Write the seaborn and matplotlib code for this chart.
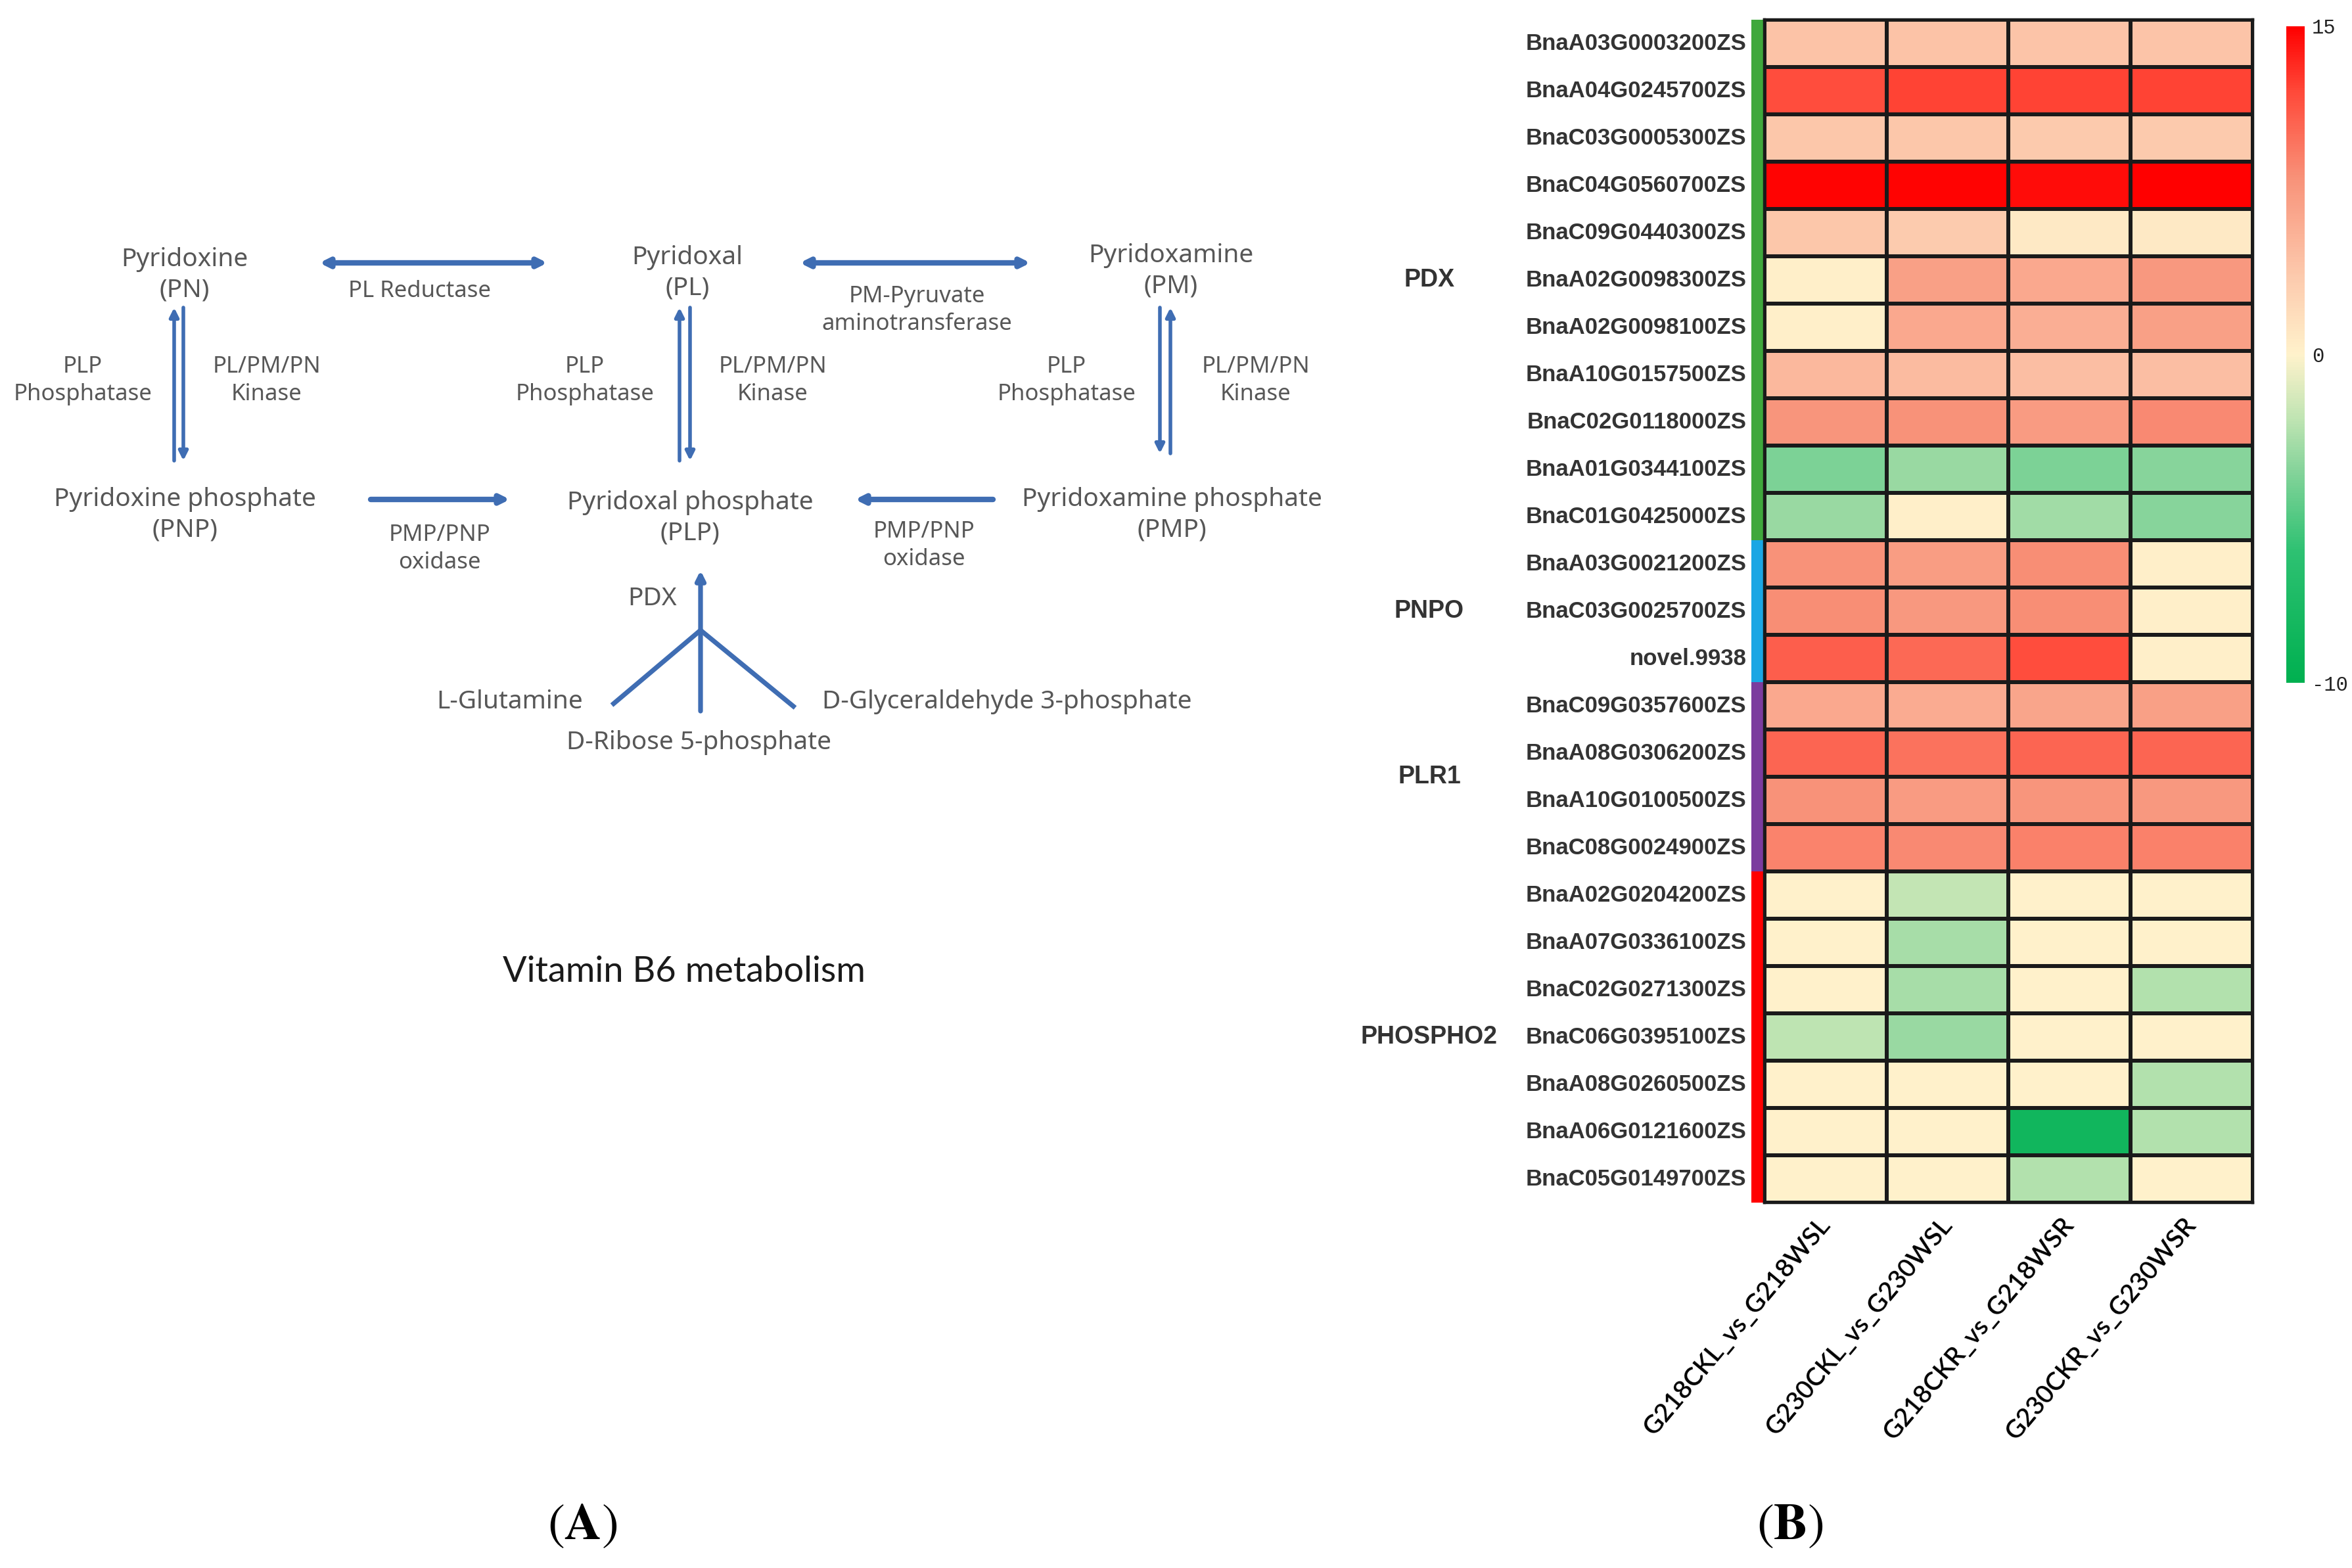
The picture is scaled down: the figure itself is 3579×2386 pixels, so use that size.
"""Vitamin B6 metabolism pathway (A) and expression heatmap of the pathway genes (B)."""
import matplotlib
matplotlib.use('Agg')
import matplotlib.pyplot as plt
import seaborn as sns
import pandas as pd
from matplotlib import colors, transforms
from matplotlib.patches import Rectangle

# %%
# heatmap data (log2 fold change)
genes = ['BnaA03G0003200ZS', 'BnaA04G0245700ZS', 'BnaC03G0005300ZS', 'BnaC04G0560700ZS',
         'BnaC09G0440300ZS', 'BnaA02G0098300ZS', 'BnaA02G0098100ZS', 'BnaA10G0157500ZS',
         'BnaC02G0118000ZS', 'BnaA01G0344100ZS', 'BnaC01G0425000ZS',
         'BnaA03G0021200ZS', 'BnaC03G0025700ZS', 'novel.9938',
         'BnaC09G0357600ZS', 'BnaA08G0306200ZS', 'BnaA10G0100500ZS', 'BnaC08G0024900ZS',
         'BnaA02G0204200ZS', 'BnaA07G0336100ZS', 'BnaC02G0271300ZS', 'BnaC06G0395100ZS',
         'BnaA08G0260500ZS', 'BnaA06G0121600ZS', 'BnaC05G0149700ZS']
comparisons = ['G218CKL_vs_G218WSL', 'G230CKL_vs_G230WSL', 'G218CKR_vs_G218WSR', 'G230CKR_vs_G230WSR']

g218_leaf = [4.2, 11.8, 3.8, 14.8, 3.8, 0.3, 0.3, 5.0, 7.8, -3.8, -3.0,
             8.0, 8.3, 10.8,
             6.3, 10.5, 8.0, 8.8,
             0, 0, 0, -2.0, 0, 0, 0]
g230_leaf = [4.2, 12.3, 3.8, 14.8, 3.5, 7.0, 6.3, 4.8, 8.0, -3.0, 0.3,
             7.2, 7.5, 10.3,
             6.0, 9.8, 7.3, 8.5,
             -1.8, -2.6, -2.6, -3.0, 0, 0, 0]
g218_root = [4.0, 12.3, 3.6, 14.5, 0.8, 6.3, 5.8, 4.5, 7.3, -3.8, -2.8,
             8.3, 8.3, 11.8,
             6.5, 10.5, 7.8, 9.0,
             0, 0, 0, 0, 0, -8.5, -2.3]
g230_root = [4.0, 12.3, 3.6, 15.0, 0.8, 7.5, 7.0, 4.5, 8.5, -3.5, -3.5,
             0.3, 0.3, 0.3,
             7.0, 10.5, 7.5, 9.0,
             0, 0, -2.3, 0, -2.3, -2.3, 0]

families = ['PDX', 'PNPO', 'PLR1', 'PHOSPHO2']
family_sizes = [11, 3, 4, 7]
family_colors = ['#3fa83c', '#1aa6e4', '#7b3c9e', '#ff0000']
cbar_ticks = [-10, 0, 15]

# %%
sns.set_style('white')
plt.rcParams['font.family'] = ['Liberation Sans', 'DejaVu Sans']
plt.rcParams['mathtext.fontset'] = 'stix'

fig = plt.figure(figsize=(17.9, 11.93), dpi=200)

# %%
# panel A: the pathway sketch, drawn in pixel coordinates of the whole figure
pa = fig.add_axes([0, 0, 1, 1])
pa.set_xlim(0, 3580)
pa.set_ylim(2386, 0)
pa.axis('off')

blue = '#3f6db3'
grey = '#575757'

names = [('Pyridoxine\n(PN)', 281, 418), ('Pyridoxal\n(PL)', 1046, 415),
         ('Pyridoxamine\n(PM)', 1782, 412), ('Pyridoxine phosphate\n(PNP)', 281, 783),
         ('Pyridoxal phosphate\n(PLP)', 1050, 788), ('Pyridoxamine phosphate\n(PMP)', 1783, 783),
         ('PDX', 993, 911), ('L-Glutamine', 776, 1068), ('D-Ribose 5-phosphate', 1064, 1130),
         ('D-Glyceraldehyde 3-phosphate', 1532, 1068)]
for txt, x, y in names:
    pa.text(x, y, txt, ha='center', va='center', fontsize=14, color=grey,
            family=['Noto Sans', 'DejaVu Sans'], linespacing=1.3)

enzymes = [('PL Reductase', 639, 443), ('PM-Pyruvate\naminotransferase', 1395, 472),
           ('PLP\nPhosphatase', 126, 579), ('PL/PM/PN\nKinase', 406, 579),
           ('PLP\nPhosphatase', 890, 579), ('PL/PM/PN\nKinase', 1176, 579),
           ('PLP\nPhosphatase', 1623, 579), ('PL/PM/PN\nKinase', 1911, 579),
           ('PMP/PNP\noxidase', 669, 835), ('PMP/PNP\noxidase', 1406, 830)]
for txt, x, y in enzymes:
    pa.text(x, y, txt, ha='center', va='center', fontsize=12.5, color=grey,
            family=['Noto Sans', 'DejaVu Sans'], linespacing=1.3)


def arrow(x0, y0, x1, y1, style='-|>', lw=2.6):
    pa.annotate('', xy=(x1, y1), xytext=(x0, y0),
                arrowprops=dict(arrowstyle=style + ',head_length=0.4,head_width=0.2',
                                color=blue, lw=lw, shrinkA=0, shrinkB=0))


arrow(486, 400, 833, 400, '<|-|>', lw=3)
arrow(1217, 400, 1568, 400, '<|-|>', lw=3)
arrow(564, 760, 776, 760, lw=3)
arrow(1511, 760, 1301, 760, lw=3)
# phosphatase / kinase pairs
arrow(265, 701, 265, 468, lw=2)
arrow(279, 468, 279, 701, lw=2)
arrow(1034, 701, 1034, 468, lw=2)
arrow(1050, 468, 1050, 701, lw=2)
arrow(1765, 468, 1765, 690, lw=2)
arrow(1781, 690, 1781, 468, lw=2)
# PDX branch
arrow(1066, 1082, 1066, 868)
pa.plot([1066, 931], [959, 1073], color=blue, lw=2.6, solid_capstyle='butt')
pa.plot([1066, 1210], [959, 1077], color=blue, lw=2.6, solid_capstyle='butt')

pa.text(1041, 1479, 'Vitamin B6 metabolism', ha='center', va='center', fontsize=19.5,
        color='#1a1a1a', family=['Lato', 'DejaVu Sans'])
pa.text(886, 2322, r'$(\mathbf{A})$', ha='center', va='center', fontsize=28, color='black')
pa.text(2724, 2322, r'$(\mathbf{B})$', ha='center', va='center', fontsize=28, color='black')

# %%
# panel B: heatmap
df = pd.DataFrame(dict(zip(comparisons, [g218_leaf, g230_leaf, g218_root, g230_root])), index=genes)

cmap = colors.LinearSegmentedColormap.from_list('gcr', [
    (0.0, '#00b050'), (0.2, '#2ec172'), (0.325, '#87d49b'), (0.4, '#bee4b2'),
    (0.5, '#fff2cc'), (0.633, '#fcc5a9'), (0.767, '#f8937a'), (0.9, '#ff4a3a'),
    (1.0, '#ff0000')])
norm = colors.TwoSlopeNorm(vmin=-10, vcenter=0, vmax=15)

ax = fig.add_axes([0.75, 0.233, 0.2075, 0.7544])
cax = fig.add_axes([0.9718, 0.5645, 0.0078, 0.4188])
sns.heatmap(df, ax=ax, cbar_ax=cax, cmap=cmap, norm=norm,
            linewidths=1.6, linecolor='#1a1a1a')

for s in ax.spines.values():
    s.set_visible(True)
    s.set_linewidth(1.6)
    s.set_color('#1a1a1a')

ax.set_yticks([i + 0.5 for i in range(len(genes))])
ax.set_yticklabels(genes, rotation=0, fontsize=12.5, fontweight='bold', color='#333333')
ax.tick_params(axis='y', length=0, pad=10)
ax.set_xticks([i + 0.5 for i in range(len(comparisons))])
ax.set_xticklabels(comparisons, rotation=50, ha='right', va='center', rotation_mode='anchor',
                   fontsize=14, fontweight='semibold', color='black',
                   family=['Lato', 'DejaVu Sans'])
ax.tick_params(axis='x', length=0, pad=10)
ax.set_xlabel('')
ax.set_ylabel('')

# family colour strip and names
start = 0
trans = transforms.blended_transform_factory(fig.transFigure, ax.transData)
for name, size, col in zip(families, family_sizes, family_colors):
    ax.add_patch(Rectangle((-0.11, start), 0.1, size, color=col, clip_on=False, lw=0))
    ax.text(2175 / 3580, start + size / 2, name, transform=trans, ha='center', va='center',
            fontsize=13.5, fontweight='bold', color='#333333')
    start += size

cbar = ax.collections[0].colorbar
cbar.set_ticks(cbar_ticks)
cbar.set_ticklabels([str(t) for t in cbar_ticks])
cax.tick_params(length=0, labelsize=11, pad=4)
for lab in cax.get_yticklabels():
    lab.set_family(['Liberation Mono', 'DejaVu Sans Mono'])
    lab.set_color('#222222')

plt.savefig('out.png', dpi=200)
